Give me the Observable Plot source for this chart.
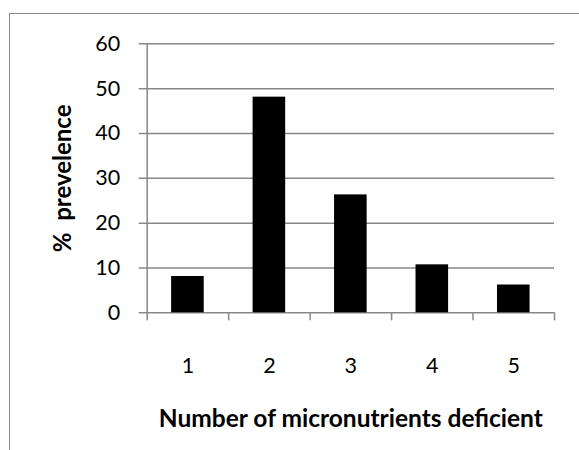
<!DOCTYPE html>
<html>
<head>
<meta charset="utf-8">
<script src="https://cdn.jsdelivr.net/npm/d3@7"></script>
<script src="https://cdn.jsdelivr.net/npm/@observablehq/plot@0.6"></script>
<style>
  html, body { margin: 0; padding: 0; background: #fff; }
  #wrap { position: relative; width: 579px; height: 450px; overflow: hidden; }
  #frame { position: absolute; left: 9px; top: 13px; width: 600px; height: 500px;
           border-left: 1.5px solid #8a8a8a; border-top: 1.5px solid #8a8a8a; box-sizing: border-box; }
  #chart { position: absolute; left: 0; top: 0; }
</style>
</head>
<body>
<div id="wrap"><div id="frame"></div><div id="chart"></div></div>
<script>
const categories = [1, 2, 3, 4, 5];
const prevalence = [8.1, 48.1, 26.3, 10.7, 6.2];
const yTicks = [0, 10, 20, 30, 40, 50, 60];
const xBoundaries = [0.5, 1.5, 2.5, 3.5, 4.5, 5.5];
const xTitle = "Number of micronutrients deficient";
const yTitle = "%  prevelence";

const data = categories.map((c, i) => ({cat: c, value: prevalence[i]}));
const gray = "#878787";
const font = "Lato, 'Open Sans', sans-serif";

const chart = Plot.plot({
  width: 579,
  height: 450,
  marginLeft: 146.7,
  marginRight: 25,
  marginTop: 43.3,
  marginBottom: 137.7,
  style: { fontFamily: font, background: "transparent", overflow: "visible" },
  x: { type: "linear", domain: [0.5, 5.5], axis: null },
  y: { type: "linear", domain: [0, 60], axis: null },
  marks: [
    Plot.ruleY(yTicks, { y: d => d, stroke: gray, strokeWidth: 1.5, insetLeft: -8 }),
    Plot.ruleX([0.5], { x: d => d, y1: 0, y2: 60, stroke: gray, strokeWidth: 1.5 }),
    Plot.ruleX(xBoundaries, { x: d => d, y1: 0, y2: 0, insetBottom: -8, stroke: gray, strokeWidth: 1.5 }),
    Plot.rectY(data, { x1: d => d.cat - 0.2, x2: d => d.cat + 0.2, y1: 0, y2: "value", fill: "#000" }),
    Plot.text(yTicks, { x: 0.5, y: d => d, text: d => String(d), dx: -27, textAnchor: "end", fontSize: 21.5, fill: "#000" }),
    Plot.text(categories, { x: d => d, y: 0, dy: 53, text: d => String(d), fontSize: 21.5, fill: "#000" }),
    Plot.text([xTitle], { x: 3, y: 0, dy: 106, text: d => d, fontSize: 24.5, fontWeight: "bold", fill: "#000" }),
    Plot.text([yTitle], { x: 0.5, y: 30, dx: -84, text: d => d, rotate: -90, fontSize: 24, fontWeight: "bold", fill: "#000" })
  ]
});
document.getElementById("chart").appendChild(chart);
</script>
</body>
</html>
